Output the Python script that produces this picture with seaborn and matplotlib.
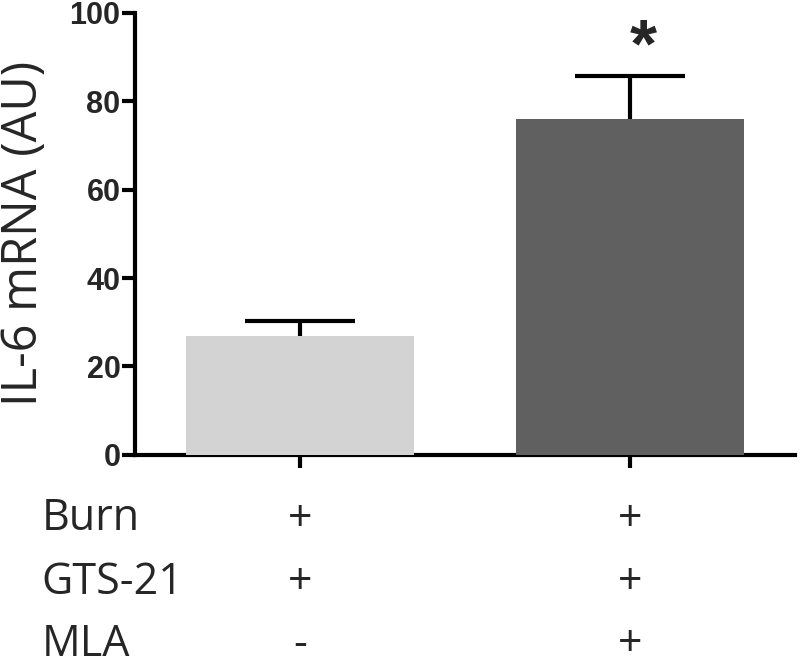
import numpy as np
import pandas as pd
import matplotlib
matplotlib.use("Agg")
import matplotlib.pyplot as plt
import seaborn as sns

# data
groups = ["A", "B"]
means = [27.0, 76.0]
sems = [3.3, 9.7]
bar_colors = ["#d3d3d3", "#606060"]
row_names = ["Burn", "GTS-21", "MLA"]
row_signs = [["+", "+"], ["+", "+"], ["-", "+"]]

sns.set_style("ticks")
plt.rcParams["font.family"] = ["Liberation Sans", "DejaVu Sans"]
label_font = ["Open Sans", "DejaVu Sans"]

df = pd.DataFrame({"group": groups, "value": means})

fig = plt.figure(figsize=(8, 6.7), dpi=100)
ax = fig.add_axes([0.169, 0.321, 0.825, 0.66])

sns.barplot(data=df, x="group", y="value", hue="group", palette=bar_colors,
            width=0.69, errorbar=None, legend=False, linewidth=0, ax=ax)
for p in ax.patches:
    p.set_zorder(3)

x = np.arange(len(groups))
tops = np.array(means) + np.array(sems)
# upper error bar only: stem from the bar top plus a cap marker
ax.errorbar(x, means, yerr=[np.zeros(len(sems)), sems], fmt="none",
            ecolor="black", elinewidth=3, capsize=0, zorder=2)
ax.plot(x, tops, ls="none", marker="_", markersize=79, markeredgewidth=3,
        color="black", zorder=2)

ax.text(1.04, 92, "*", ha="center", va="center", fontsize=50, fontweight="bold")

ax.set_ylim(0, 100)
ax.set_xlim(-0.5, 1.5)
ax.set_yticks([0, 20, 40, 60, 80, 100])
ax.set_xticks(x)
ax.set_xticklabels([])
ax.set_xlabel("")
ax.set_ylabel("IL-6 mRNA (AU)", fontsize=35, family=label_font)
ax.yaxis.set_label_coords(-0.13, 0.5)
for lab in ax.get_yticklabels():
    lab.set_fontweight("bold")
ax.tick_params(axis="both", width=3, length=9.5, labelsize=22, color="black", pad=1)
sns.despine(ax=ax)
for s in ["left", "bottom"]:
    ax.spines[s].set_linewidth(3)
    ax.spines[s].set_color("black")

# condition table below the axis
row_y = [0.225, 0.13, 0.038]
for name, signs, yy in zip(row_names, row_signs, row_y):
    fig.text(0.052, yy, name, fontsize=31, va="center", ha="left", family=label_font)
    for xi, sg in zip(x, signs):
        xf = ax.transData.transform((xi, 0))[0] / fig.bbox.width
        fig.text(xf, yy, sg, fontsize=31, va="center", ha="center", family=label_font)

fig.savefig("out.png", dpi=100, facecolor="white")
